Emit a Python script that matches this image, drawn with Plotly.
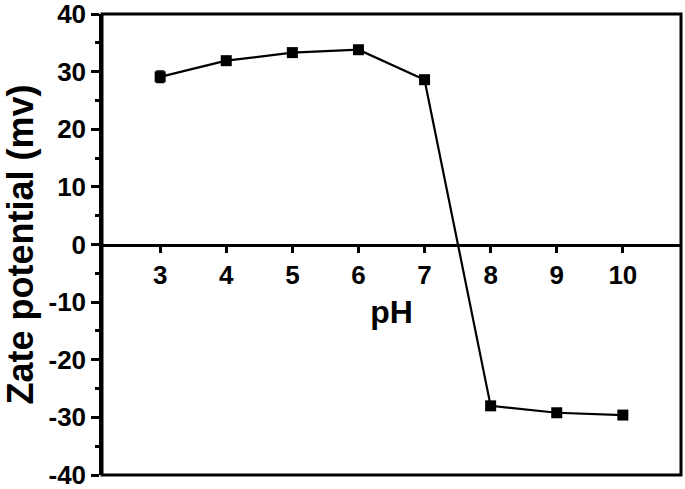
import plotly.graph_objects as go

ph = [3, 4, 5, 6, 7, 8, 9, 10]
zeta = [29.1, 31.9, 33.3, 33.8, 28.6, -28.0, -29.2, -29.6]
zeta_err = [1.0, 0.6, 0.5, 0.6, 0.7, 0.6, 0.4, 0.5]
x_ticks = [3, 4, 5, 6, 7, 8, 9, 10]
y_ticks = [-40, -30, -20, -10, 0, 10, 20, 30, 40]

fig = go.Figure()
fig.add_trace(go.Scatter(
    x=ph, y=zeta,
    mode="lines+markers",
    line=dict(color="black", width=2.2),
    marker=dict(symbol="square", size=11, color="black"),
    error_y=dict(type="data", array=zeta_err, color="black", thickness=1.5, width=4),
    showlegend=False,
))

font = "Liberation Sans, Arial, sans-serif"
fig.update_layout(
    width=685, height=489,
    margin=dict(l=102, r=4, t=14, b=14),
    paper_bgcolor="white", plot_bgcolor="white",
    font=dict(family=font, color="black"),
    xaxis=dict(
        range=[2.12, 10.88],
        tickvals=x_ticks,
        ticktext=[f"<b>{v}</b>" for v in x_ticks],
        tickfont=dict(size=26),
        ticks="outside", ticklen=7, tickwidth=2.5, tickcolor="black",
        showline=True, linewidth=2.5, linecolor="black",
        showgrid=False, zeroline=False,
        anchor="free", position=0.5,
        automargin=False,
        ticklabeloverflow="allow",
        title=dict(text="<b>pH</b>", font=dict(size=32), standoff=11),
    ),
    yaxis=dict(
        range=[-40, 40],
        tickvals=y_ticks,
        ticktext=[f"<b>{v}</b>" for v in y_ticks],
        tickfont=dict(size=26),
        ticks="outside", ticklen=8, tickwidth=2.5, tickcolor="black",
        minor=dict(dtick=5, ticks="outside", ticklen=4, tickwidth=2.5, tickcolor="black"),
        showline=True, linewidth=2.5, linecolor="black",
        showgrid=False, zeroline=False,
        automargin=False,
        ticklabeloverflow="allow",
        title=dict(text="<b>Zate potential (mv)</b>", font=dict(size=36), standoff=4),
    ),
    shapes=[dict(type="rect", xref="paper", yref="paper", x0=0, y0=0, x1=1, y1=1,
                 line=dict(color="black", width=3), layer="above")],
)

fig.write_html(
    "out.html",
    config={"displayModeBar": False},
    post_script="document.body.style.margin='0px';document.body.style.overflow='hidden';",
)
